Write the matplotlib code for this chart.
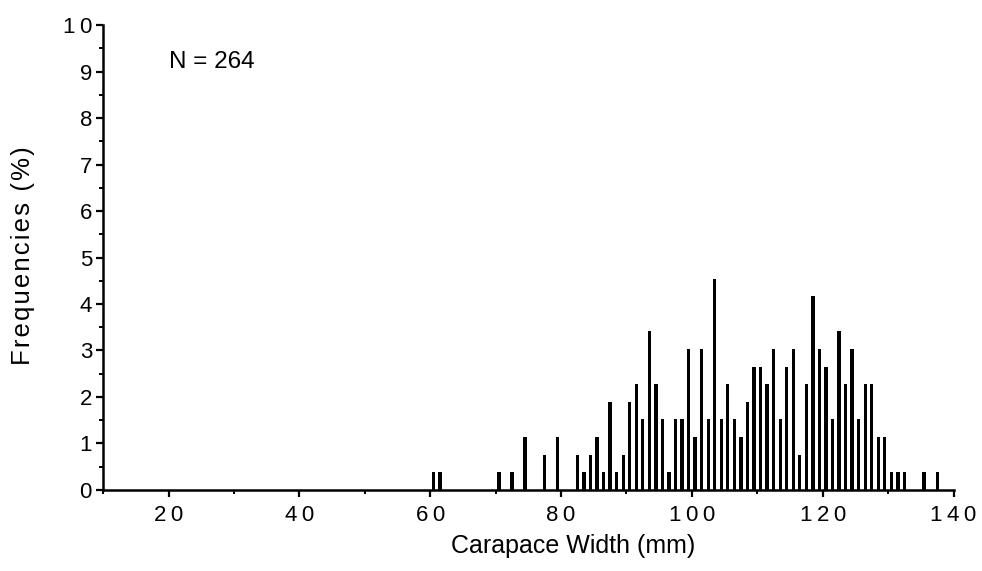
import numpy as np
import matplotlib
matplotlib.use("Agg")
import matplotlib.pyplot as plt
from matplotlib.ticker import MultipleLocator

plt.rcParams['font.family'] = ['Liberation Sans', 'DejaVu Sans']

# -------------------- data --------------------
# 1 mm width classes (bar at class centre) and number of crabs in each
n_total = 264
width_mm = [60.5, 61.5, 70.5, 72.5, 74.5, 77.5, 79.5,
            82.5, 83.5, 84.5, 85.5, 86.5, 87.5, 88.5, 89.5,
            90.5, 91.5, 92.5, 93.5, 94.5, 95.5, 96.5, 97.5, 98.5, 99.5,
            100.5, 101.5, 102.5, 103.5, 104.5, 105.5, 106.5, 107.5, 108.5, 109.5,
            110.5, 111.5, 112.5, 113.5, 114.5, 115.5, 116.5, 117.5, 118.5, 119.5,
            120.5, 121.5, 122.5, 123.5, 124.5, 125.5, 126.5, 127.5, 128.5, 129.5,
            130.5, 131.5, 132.5, 135.5, 137.5]
counts = [1, 1, 1, 1, 3, 2, 3,
          2, 1, 2, 3, 1, 5, 1, 2,
          5, 6, 4, 9, 6, 4, 1, 4, 4, 8,
          3, 8, 4, 12, 4, 6, 4, 3, 5, 7,
          7, 6, 8, 4, 7, 8, 2, 6, 11, 8,
          7, 4, 9, 6, 8, 4, 6, 6, 3, 3,
          1, 1, 1, 1, 1]

freq_pct = np.array(counts) / n_total * 100

x_ticks = [20, 40, 60, 80, 100, 120, 140]
x_ticklabels = ['2\u20090', '4\u20090', '6\u20090', '8\u20090',
                '1\u20090\u20090', '1\u20092\u20090', '1\u20094\u20090']
y_ticks = list(range(0, 11))
y_ticklabels = [str(v) for v in range(10)] + ['1\u20090']

# y label is set with slightly wider letter spacing
ylabel = '\u200a'.join('Frequencies (%)')

# -------------------- plot --------------------
fig = plt.figure(figsize=(9.82, 5.71), dpi=100)
ax = fig.add_axes([0.105, 0.142, 0.866, 0.814])

ax.bar(width_mm, freq_pct, width=0.5, color='black', edgecolor='none')

ax.set_xlim(10, 140)
ax.set_ylim(0, 10)

for side in ('top', 'right'):
    ax.spines[side].set_visible(False)
for side in ('left', 'bottom'):
    ax.spines[side].set_linewidth(1.8)

ax.set_xticks(x_ticks)
ax.set_xticklabels(x_ticklabels)
ax.xaxis.set_minor_locator(MultipleLocator(10))
ax.set_yticks(y_ticks)
ax.set_yticklabels(y_ticklabels)
ax.yaxis.set_minor_locator(MultipleLocator(0.5))

ax.tick_params(axis='both', which='major', direction='out', length=5, width=1.6,
               labelsize=16, pad=6)
ax.tick_params(axis='both', which='minor', direction='out', length=3, width=1.4)
ax.tick_params(axis='y', which='major', pad=3)

ax.set_xlabel('Carapace Width (mm)', fontsize=18)
ax.xaxis.set_label_coords(0.553, -0.095)
ax.set_ylabel(ylabel, fontsize=18.5)
ax.yaxis.set_label_coords(-0.08, 0.505)

ax.text(20, 9.2, 'N = 264', fontsize=17.5, va='center', ha='left')

fig.savefig('out.png', dpi=100, facecolor='white')
